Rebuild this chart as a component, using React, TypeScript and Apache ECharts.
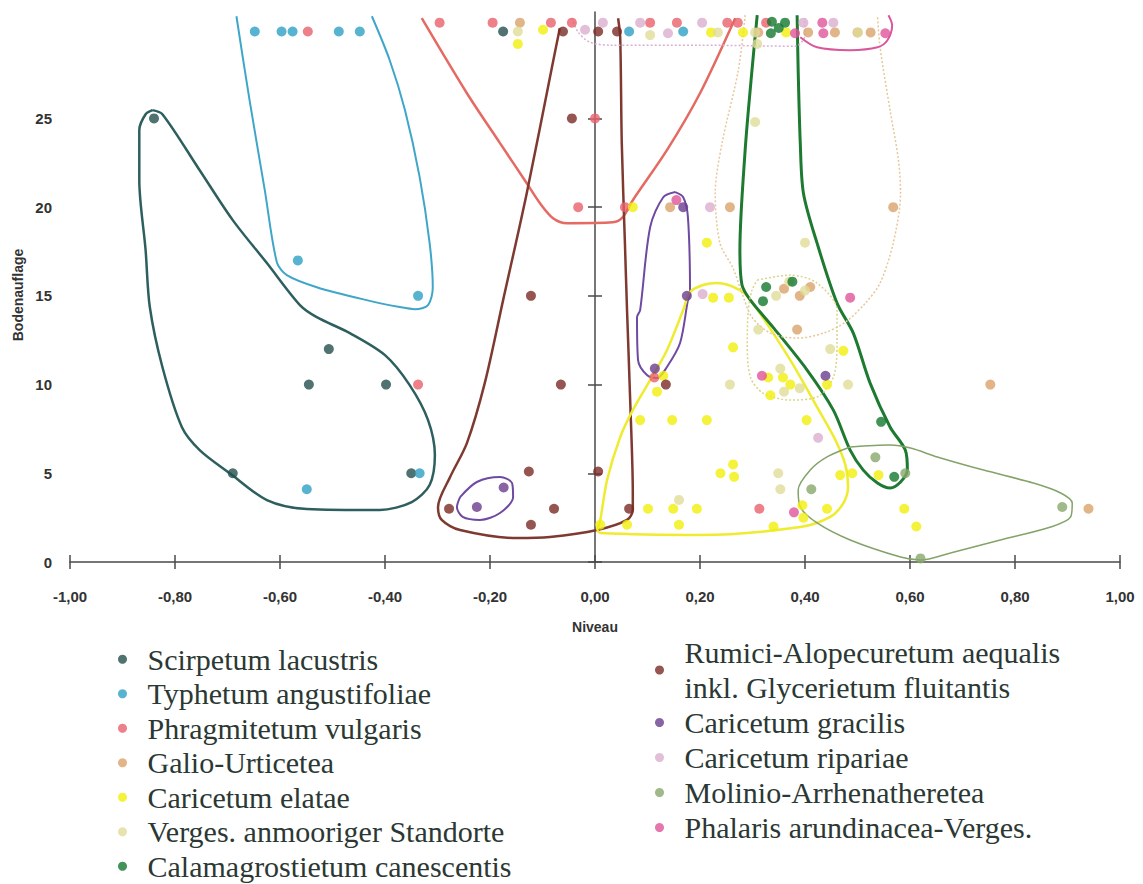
import { useEffect, useRef } from "react";
import * as echarts from "echarts";

// ---------- categories (legend order) ----------
const LEFT_NAMES = [
  "Scirpetum lacustris",
  "Typhetum angustifoliae",
  "Phragmitetum vulgaris",
  "Galio-Urticetea",
  "Caricetum elatae",
  "Verges. anmooriger Standorte",
  "Calamagrostietum canescentis",
];
const RIGHT_NAMES = [
  "Rumici-Alopecuretum aequalis inkl. Glycerietum fluitantis",
  "Caricetum gracilis",
  "Caricetum ripariae",
  "Molinio-Arrhenatheretea",
  "Phalaris arundinacea-Verges.",
];
const X_TITLE = "Niveau";
const Y_TITLE = "Bodenauflage";

// ---------- axis ticks ----------
const X_MIN = -1;
const X_MAX = 1;
const X_STEP = 0.2;
const Y_MIN = 0;
const Y_MAX = 31;
const Y_TICKS = [0, 5, 10, 15, 20, 25];

// ---------- point data [Niveau, Bodenauflage] ----------
const scirpetum = [[-0.84, 25], [-0.507, 12], [-0.545, 10], [-0.398, 10], [-0.69, 5], [-0.35, 5], [-0.175, 29.9]];
const typhetum = [[-0.648, 29.9], [-0.597, 29.9], [-0.576, 29.9], [-0.488, 29.9], [-0.448, 29.9], [-0.566, 17], [-0.337, 15], [-0.334, 5], [-0.549, 4.1], [0.065, 29.9], [0.168, 29.9]];
const phragmitetum = [[-0.296, 30.4], [-0.195, 30.4], [-0.084, 30.4], [-0.044, 30.4], [0.105, 30.4], [0.156, 30.4], [0.252, 30.4], [0.272, 30.4], [0.326, 30.4], [-0.547, 29.9], [0, 25], [-0.032, 20], [0.057, 20], [-0.337, 10], [0.313, 3], [0.113, 10.4]];
const galio = [[-0.143, 30.4], [0.311, 29.85], [0.406, 29.85], [0.457, 29.85], [0.5, 29.85], [0.525, 29.85], [0.257, 20], [0.143, 20], [0.568, 20], [0.385, 13.1], [0.753, 10], [0.94, 3], [0.36, 15.4], [0.39, 15.0], [0.41, 15.5]];
const elatae = [[-0.099, 30], [-0.147, 29.2], [0.221, 29.85], [0.282, 29.85], [0.364, 29.85], [0.072, 20], [0.213, 18], [0.225, 14.9], [0.255, 14.9], [0.263, 12.1], [0.473, 11.9], [0.442, 10], [0.33, 10.4], [0.358, 10.4], [0.372, 10], [0.334, 9.4], [0.118, 9.6], [0.13, 10.5], [0.086, 8], [0.147, 8], [0.213, 8], [0.403, 8], [0.239, 5], [0.263, 5.5], [0.265, 4.8], [0.467, 4.9], [0.49, 5], [0.54, 4.9], [0.101, 3], [0.149, 3], [0.194, 3], [0.16, 2.1], [0.061, 2.1], [0.01, 2.1], [0.34, 2], [0.395, 3.2], [0.397, 2.5], [0.442, 3], [0.589, 3], [0.612, 2]];
const verges = [[-0.147, 29.9], [0.105, 29.7], [0.234, 29.85], [0.305, 29.85], [0.309, 29.2], [0.501, 29.85], [0.305, 24.8], [0.4, 18], [0.257, 10], [0.353, 10.9], [0.482, 10], [0.311, 13.1], [0.448, 12], [0.345, 15.0], [0.37, 15.8], [0.4, 15.3], [0.349, 5], [0.353, 4.1], [0.16, 3.5], [0.36, 9.6], [0.39, 9.8]];
const calamagrostietum = [[0.337, 30.45], [0.362, 30.4], [0.335, 29.8], [0.35, 30.1], [0.326, 15.5], [0.376, 15.8], [0.32, 14.7], [0.545, 7.9], [0.57, 4.8]];
const rumici = [[-0.061, 29.9], [0.006, 29.9], [0.042, 29.9], [-0.044, 25], [-0.122, 15], [-0.065, 10], [-0.126, 5.1], [0.006, 5.1], [-0.278, 3], [-0.078, 3], [-0.122, 2.1], [0.065, 3], [0.135, 10]];
const gracilis = [[-0.225, 3.1], [-0.174, 4.2], [0.114, 10.9], [0.168, 20], [0.175, 15], [0.439, 10.5]];
const ripariae = [[-0.019, 30], [0.015, 30.4], [0.086, 30.4], [0.204, 30.4], [0.139, 29.8], [0.397, 30.4], [0.454, 30.4], [0.425, 7], [0.219, 20], [0.205, 15.1]];
const molinio = [[0.534, 5.9], [0.591, 5], [0.412, 4.1], [0.89, 3.1], [0.62, 0.2]];
const phalaris = [[0.433, 30.4], [0.435, 29.8], [0.381, 29.8], [0.553, 29.8], [0.486, 14.9], [0.318, 10.5], [0.379, 2.8], [0.155, 20.4]];

// ---------- hand-drawn envelopes (data coordinates) ----------
const hullScirpetum = [[-0.843, 25.47], [-0.824, 25.24], [-0.753, 22.08], [-0.69, 19.27], [-0.625, 16.85], [-0.562, 14.48], [-0.53, 13.8], [-0.467, 12.9], [-0.4, 11.66], [-0.353, 9.97], [-0.318, 8.0], [-0.305, 6.03], [-0.315, 4.34], [-0.349, 3.38], [-0.41, 2.93], [-0.549, 2.99], [-0.625, 3.49], [-0.696, 5.01], [-0.753, 6.31], [-0.787, 7.61], [-0.824, 10.99], [-0.848, 14.37], [-0.856, 17.58], [-0.868, 21.52], [-0.868, 24.34], [-0.856, 25.24], [-0.843, 25.47]];
const hullTyphetum = [[-0.683, 30.76], [-0.658, 26.03], [-0.629, 20.96], [-0.606, 16.9], [-0.587, 16.17], [-0.53, 15.49], [-0.435, 14.76], [-0.372, 14.37], [-0.343, 14.25], [-0.318, 14.48], [-0.309, 15.49], [-0.315, 17.97], [-0.334, 21.69], [-0.362, 25.47], [-0.391, 28.28], [-0.425, 30.76]];
const hullPhragmitetum = [[-0.33, 30.65], [-0.244, 26.42], [-0.181, 23.61], [-0.13, 21.35], [-0.105, 20.23], [-0.08, 19.38], [-0.053, 19.1], [0.034, 19.15], [0.053, 19.44], [0.072, 20.39], [0.137, 23.21], [0.2, 26.42], [0.267, 30.65]];
const hullRumici = [[-0.067, 30.08], [-0.082, 27.89], [-0.13, 20.79], [-0.175, 14.76], [-0.21, 10.08], [-0.244, 6.7], [-0.276, 4.79], [-0.299, 3.1], [-0.292, 2.37], [-0.257, 1.8], [-0.149, 1.35], [-0.086, 1.41], [0.004, 1.8], [0.061, 2.37], [0.072, 2.93], [0.072, 3.89], [0.067, 9.13], [0.061, 14.2], [0.057, 17.97], [0.051, 23.61], [0.048, 29.58], [0.044, 30.65]];
const hullGracilisLow = [[-0.257, 3.66], [-0.225, 4.51], [-0.181, 4.79], [-0.158, 4.45], [-0.156, 3.66], [-0.181, 2.76], [-0.219, 2.37], [-0.252, 2.54], [-0.263, 3.1], [-0.257, 3.66]];
const hullGracilisHigh = [[0.153, 20.85], [0.168, 20.56], [0.177, 19.44], [0.181, 15.15], [0.177, 14.76], [0.162, 12.34], [0.137, 10.99], [0.118, 10.37], [0.099, 10.54], [0.082, 11.38], [0.08, 13.8], [0.086, 14.2], [0.105, 18.87], [0.13, 20.56], [0.153, 20.85]];
const hullElatae = [[0.004, 1.8], [0.01, 2.37], [0.023, 4.62], [0.048, 7.04], [0.072, 8.56], [0.105, 10.25], [0.137, 11.94], [0.168, 14.2], [0.181, 15.21], [0.206, 15.61], [0.233, 15.72], [0.276, 15.32], [0.299, 14.65], [0.372, 11.38], [0.423, 8.73], [0.458, 6.87], [0.477, 5.46], [0.482, 4.23], [0.473, 3.32], [0.448, 2.54], [0.391, 1.97], [0.2, 1.52], [0.01, 1.63], [0.004, 1.8]];
const hullCalamagrostietum = [[0.309, 30.82], [0.299, 27.72], [0.286, 23.21], [0.276, 17.58], [0.28, 15.61], [0.296, 14.76], [0.339, 13.24], [0.404, 10.82], [0.454, 8.56], [0.486, 6.31], [0.511, 5.18], [0.538, 4.45], [0.562, 4.17], [0.582, 4.51], [0.595, 5.18], [0.591, 6.31], [0.562, 7.61], [0.524, 10.08], [0.492, 12.9], [0.461, 14.59], [0.423, 17.97], [0.397, 20.79], [0.391, 23.61], [0.387, 27.72], [0.385, 30.82]];
const hullMolinio = [[0.486, 6.48], [0.562, 6.59], [0.601, 6.42], [0.652, 5.92], [0.74, 5.18], [0.835, 4.45], [0.887, 3.89], [0.909, 3.32], [0.906, 2.54], [0.868, 1.97], [0.772, 1.24], [0.677, 0.51], [0.62, 0.11], [0.582, 0.28], [0.486, 1.24], [0.423, 2.2], [0.391, 3.1], [0.387, 4.06], [0.41, 5.18], [0.442, 5.92], [0.486, 6.48]];
const hullGalio = [[0.286, 30.82], [0.273, 27.72], [0.242, 23.61], [0.229, 20.79], [0.238, 17.97], [0.263, 16.56], [0.28, 15.15], [0.299, 13.8], [0.334, 12.9], [0.385, 12.62], [0.435, 12.9], [0.477, 13.52], [0.515, 14.59], [0.543, 15.72], [0.568, 17.97], [0.582, 20.79], [0.578, 22.65], [0.562, 25.47], [0.543, 29.01], [0.538, 30.82]];
const hullVerges = [[0.309, 15.89], [0.372, 16.17], [0.423, 15.72], [0.461, 14.2], [0.461, 12.34], [0.454, 10.42], [0.423, 9.3], [0.372, 9.13], [0.32, 9.52], [0.296, 10.42], [0.29, 12.34], [0.292, 14.2], [0.299, 15.32], [0.309, 15.89]];
const hullRipariae = [[-0.044, 30.65], [-0.032, 29.86], [-0.01, 29.3], [0.029, 29.13], [0.2, 29.13], [0.381, 29.07], [0.4, 29.7], [0.4, 30.65]];
const hullPhalaris = [[0.391, 29.58], [0.423, 29.01], [0.486, 28.85], [0.538, 29.01], [0.557, 29.41], [0.566, 30.25], [0.559, 30.82]];

export default function App() {
  const ref = useRef<HTMLDivElement>(null);

  useEffect(() => {
    if (!ref.current) return;
    const chart = echarts.init(ref.current, null, { renderer: "svg" });

    const pointSeries = [
      { name: LEFT_NAMES[0], data: scirpetum, color: "#24504f" },
      { name: LEFT_NAMES[1], data: typhetum, color: "#2ea0c4" },
      { name: LEFT_NAMES[2], data: phragmitetum, color: "#e8606a" },
      { name: LEFT_NAMES[3], data: galio, color: "#dba36b" },
      { name: LEFT_NAMES[4], data: elatae, color: "#f3ef0a" },
      { name: LEFT_NAMES[5], data: verges, color: "#e0dc98" },
      { name: LEFT_NAMES[6], data: calamagrostietum, color: "#11782d" },
      { name: RIGHT_NAMES[0], data: rumici, color: "#7b2b26" },
      { name: RIGHT_NAMES[1], data: gracilis, color: "#6b3d8e" },
      { name: RIGHT_NAMES[2], data: ripariae, color: "#dcaed0" },
      { name: RIGHT_NAMES[3], data: molinio, color: "#87a76a" },
      { name: RIGHT_NAMES[4], data: phalaris, color: "#e0549a" },
    ].map((s) => ({
      type: "scatter",
      name: s.name,
      data: s.data,
      symbol: "circle",
      symbolSize: 10,
      itemStyle: { color: s.color },
      z: 5,
    }));

    const hullDefs = [
      { data: hullScirpetum, color: "#2e5f5f", width: 2.5, dash: "solid" },
      { data: hullTyphetum, color: "#3fa6c8", width: 2, dash: "solid" },
      { data: hullPhragmitetum, color: "#e46a62", width: 2.5, dash: "solid" },
      { data: hullRumici, color: "#7e3a30", width: 2.5, dash: "solid" },
      { data: hullGracilisLow, color: "#6e4aa0", width: 2, dash: "solid" },
      { data: hullGracilisHigh, color: "#6e4aa0", width: 2, dash: "solid" },
      { data: hullElatae, color: "#efeb2e", width: 2.5, dash: "solid" },
      { data: hullCalamagrostietum, color: "#1e7a30", width: 3, dash: "solid" },
      { data: hullMolinio, color: "#84a36a", width: 1.5, dash: "solid" },
      { data: hullGalio, color: "#e6c79a", width: 1.5, dash: [2, 2] },
      { data: hullVerges, color: "#d8d58a", width: 1.5, dash: [2, 2] },
      { data: hullRipariae, color: "#d8b0d4", width: 1.5, dash: [2, 2] },
      { data: hullPhalaris, color: "#d9579c", width: 2, dash: "solid" },
    ];
    const hullSeries = hullDefs.map((h) => ({
      type: "line",
      data: h.data,
      symbol: "none",
      smooth: 0.3,
      silent: true,
      lineStyle: { color: h.color, width: h.width, type: h.dash },
      z: 2,
    }));

    const axisColor = "#4a4a4a";
    const axisFont = "'Liberation Sans', Arial, sans-serif";
    const serifFont = "'Liberation Serif', 'Times New Roman', serif";
    const fmtX = (v: number) => {
      const n = Math.abs(v) < 1e-9 ? 0 : v;
      return n.toFixed(2).replace(".", ",");
    };

    chart.setOption({
      animation: false,
      backgroundColor: "#ffffff",
      grid: { left: 70, right: 23, top: 12, bottom: 322, containLabel: false, outerBoundsMode: "none" },
      graphic: [
        {
          type: "text",
          x: 18,
          y: 295,
          rotation: Math.PI / 2,
          style: {
            text: Y_TITLE,
            fontFamily: axisFont,
            fontWeight: "bold",
            fontSize: 14,
            fill: "#333",
            align: "center",
            verticalAlign: "middle",
          },
        },
      ],
      xAxis: [
        {
          type: "value",
          min: X_MIN,
          max: X_MAX,
          interval: X_STEP,
          position: "bottom",
          name: X_TITLE,
          nameLocation: "middle",
          nameGap: 58,
          nameMoveOverlap: false,
          nameTextStyle: { fontFamily: axisFont, fontWeight: "bold", fontSize: 14, color: "#333" },
          axisLine: { show: true, lineStyle: { color: axisColor, width: 1.5 } },
          axisTick: { show: true, inside: false, length: 7, lineStyle: { color: axisColor, width: 1.5 } },
          axisLabel: {
            formatter: fmtX,
            margin: 27,
            fontFamily: axisFont,
            fontWeight: "bold",
            fontSize: 15,
            color: "#333",
          },
          splitLine: { show: false },
        },
        {
          type: "value",
          min: X_MIN,
          max: X_MAX,
          interval: X_STEP,
          position: "bottom",
          axisLine: { show: false },
          axisTick: { show: true, inside: true, length: 7, lineStyle: { color: axisColor, width: 1.5 } },
          axisLabel: { show: false },
          splitLine: { show: false },
        },
      ],
      yAxis: [
        {
          type: "value",
          min: Y_MIN,
          max: Y_MAX,
          position: "left",
          axisLine: { show: true, onZero: true, lineStyle: { color: axisColor, width: 1.5 } },
          axisTick: { show: true, inside: false, length: 7, customValues: Y_TICKS, lineStyle: { color: axisColor, width: 1.5 } },
          axisLabel: {
            customValues: Y_TICKS,
            margin: 18,
            fontFamily: axisFont,
            fontWeight: "bold",
            fontSize: 15,
            color: "#333",
          },
          splitLine: { show: false },
        },
        {
          type: "value",
          min: Y_MIN,
          max: Y_MAX,
          position: "left",
          axisLine: { show: false, onZero: true },
          axisTick: { show: true, inside: true, length: 7, customValues: Y_TICKS, lineStyle: { color: axisColor, width: 1.5 } },
          axisLabel: { show: false },
          splitLine: { show: false },
        },
      ],
      legend: [
        {
          data: LEFT_NAMES,
          orient: "vertical",
          left: 118,
          top: 642,
          height: 245,
          padding: 0,
          icon: "circle",
          itemWidth: 40,
          itemHeight: 9,
          itemGap: 0,
          selectedMode: false,
          textStyle: { fontFamily: serifFont, fontSize: 30, lineHeight: 34.5, color: "#2b3833" },
        },
        {
          data: RIGHT_NAMES,
          orient: "vertical",
          left: 655,
          top: 635,
          height: 245,
          padding: 0,
          icon: "circle",
          itemWidth: 40,
          itemHeight: 9,
          itemGap: 0,
          selectedMode: false,
          formatter: (name: string) => name.replace(" inkl.", "\ninkl."),
          textStyle: { fontFamily: serifFont, fontSize: 30, lineHeight: 35, color: "#2b3833" },
        },
      ],
      series: [...hullSeries, ...pointSeries],
    });

    return () => chart.dispose();
  }, []);

  return (
    <div
      ref={ref}
      style={{ position: "absolute", left: 0, top: 0, width: 1143, height: 884, background: "#fff" }}
    />
  );
}
